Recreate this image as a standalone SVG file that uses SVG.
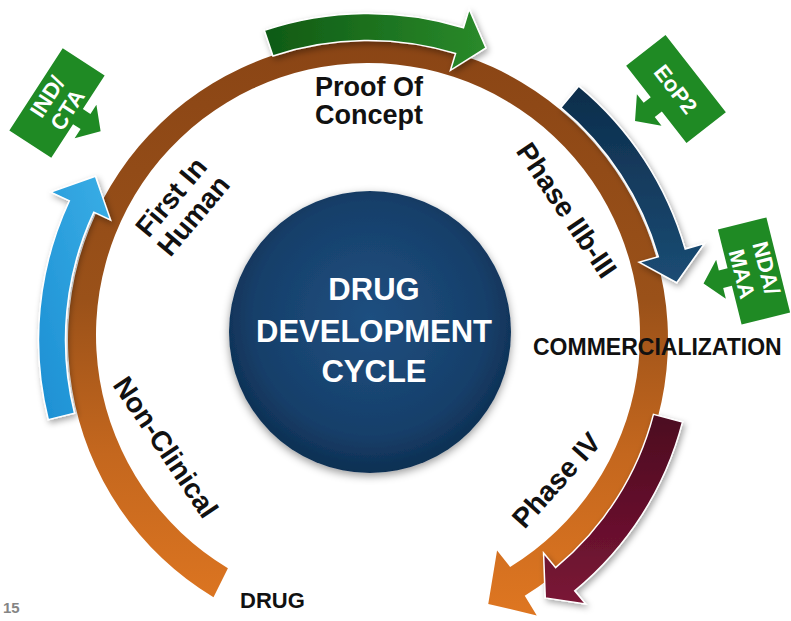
<svg xmlns="http://www.w3.org/2000/svg" width="791" height="621" viewBox="0 0 791 621">
<defs>
<style>
.lbl{font-family:"Liberation Sans",Arial,sans-serif;font-weight:bold;fill:#111;}
.tagt{font-family:"Liberation Sans",Arial,sans-serif;font-weight:bold;fill:#fff;font-size:22px;text-anchor:middle;}
.ctr{font-family:"Liberation Sans",Arial,sans-serif;font-weight:bold;fill:#fff;font-size:31px;text-anchor:middle;}
.arr{stroke:#fff;stroke-width:1.5;filter:url(#sh);}
.tag{fill:#1f8a24;}
</style>
<filter id="sh" x="-20%" y="-20%" width="140%" height="140%">
<feDropShadow dx="2" dy="3" stdDeviation="3" flood-color="#000" flood-opacity="0.35"/>
</filter>
<filter id="sh2" x="-20%" y="-20%" width="140%" height="140%">
<feDropShadow dx="0" dy="3" stdDeviation="4" flood-color="#000" flood-opacity="0.4"/>
</filter>
<linearGradient id="gRing" gradientUnits="userSpaceOnUse" x1="0" y1="40" x2="0" y2="615">
<stop offset="0" stop-color="#8a4515"/>
<stop offset="0.45" stop-color="#9a5119"/>
<stop offset="0.72" stop-color="#c4671e"/>
<stop offset="1" stop-color="#de7621"/>
</linearGradient>
<linearGradient id="gBlue" x1="0" y1="1" x2="1" y2="0">
<stop offset="0" stop-color="#1c8fd3"/>
<stop offset="1" stop-color="#3aaee6"/>
</linearGradient>
<linearGradient id="gGreen" x1="0" y1="0" x2="1" y2="0">
<stop offset="0" stop-color="#0f5a14"/>
<stop offset="1" stop-color="#2a8a2a"/>
</linearGradient>
<linearGradient id="gNavy" x1="0" y1="0" x2="0" y2="1">
<stop offset="0" stop-color="#0d2d4b"/>
<stop offset="1" stop-color="#1b4c74"/>
</linearGradient>
<linearGradient id="gMaroon" x1="0" y1="0" x2="0" y2="1">
<stop offset="0" stop-color="#4c0820"/>
<stop offset="1" stop-color="#7a1636"/>
</linearGradient>
<radialGradient id="gCircle" cx="0.5" cy="0.45" r="0.55">
<stop offset="0" stop-color="#1f4f80"/>
<stop offset="0.75" stop-color="#163f6a"/>
<stop offset="1" stop-color="#0e2f52"/>
</radialGradient>
</defs>
<rect width="791" height="621" fill="#fff"/>

<g id="connectors">
<path id="ring" fill="url(#gRing)" d="M213.49,597.15 A300,300 0 1 1 524.75,595.79 L536.77,615.40 L488.26,603.89 L497.06,550.60 L510.12,566.92 A272,272 0 1 0 227.91,568.15 Z"/>
<path id="arrow-blue" class="arr" fill="url(#gBlue)" d="M48.29,419.71 A329.5,329.5 0 0 1 69.37,200.75 L50.79,192.08 L95.42,176.22 L110.61,219.98 L93.84,212.16 A302.5,302.5 0 0 0 74.48,413.18 Z"/>
<path id="arrow-green" class="arr" fill="url(#gGreen)" d="M264.40,30.37 A326.5,326.5 0 0 1 463.46,27.77 L469.16,9.12 L486.0,47.94 L450.45,70.32 L455.57,53.59 A299.5,299.5 0 0 0 272.97,55.98 Z"/>
<path id="arrow-navy" class="arr" fill="url(#gNavy)" d="M578.79,86.10 A330,330 0 0 1 685.22,249.04 L704.44,243.53 L676.74,282.78 L639.08,262.27 L658.30,256.76 A302,302 0 0 0 560.91,107.64 Z"/>
<path id="arrow-maroon" class="arr" fill="url(#gMaroon)" d="M682.51,421.92 A325,325 0 0 1 574.73,590.78 L585.54,603.89 L545.29,597.95 L543.56,552.97 L555.64,567.63 A295,295 0 0 0 653.47,414.36 Z"/>
</g>

<g id="center-node">
<circle cx="370" cy="332" r="141" fill="url(#gCircle)" filter="url(#sh2)"/>
<text class="ctr" x="374" y="300">DRUG</text>
<text class="ctr" x="374" y="342">DEVELOPMENT</text>
<text class="ctr" x="374" y="382">CYCLE</text>
</g>

<g id="tag-ind-cta" transform="translate(57,103) rotate(-57)">
<path class="tag" d="M-49,-25 H49 V25 H9 V34 H20 L0,52 L-20,34 H-9 V25 H-49 Z"/>
<text class="tagt" x="0" y="-4">IND/</text>
<text class="tagt" x="0" y="20">CTA</text>
</g>
<g id="tag-eop2" transform="translate(676,89) rotate(52)">
<path class="tag" d="M-49,-25 H49 V25 H9 V34 H20 L0,52 L-20,34 H-9 V25 H-49 Z"/>
<text class="tagt" x="0" y="8">EoP2</text>
</g>
<g id="tag-nda-maa" transform="translate(754,271) rotate(76)">
<path class="tag" d="M-49,-25 H49 V25 H9 V34 H20 L0,52 L-20,34 H-9 V25 H-49 Z"/>
<text class="tagt" x="0" y="-5">NDA/</text>
<text class="tagt" x="0" y="20">MAA</text>
</g>

<g id="label-poc">
<text class="lbl" x="369" y="96" font-size="27" text-anchor="middle">Proof Of</text>
<text class="lbl" x="369" y="124" font-size="27" text-anchor="middle">Concept</text>
</g>
<g id="label-fih" transform="translate(182,206) rotate(-50)">
<text class="lbl" x="0" y="-4.5" font-size="28" text-anchor="middle">First In</text>
<text class="lbl" x="0" y="24.5" font-size="28" text-anchor="middle">Human</text>
</g>
<g id="label-nonclinical" transform="translate(166,447) rotate(56)">
<text class="lbl" x="0" y="10" font-size="28" text-anchor="middle">Non-Clinical</text>
</g>
<g id="label-phase3" transform="translate(567,210) rotate(56)">
<text class="lbl" x="0" y="10" font-size="28" text-anchor="middle">Phase IIb-III</text>
</g>
<g id="label-phase4" transform="translate(556,480) rotate(-48)">
<text class="lbl" x="0" y="10" font-size="28" text-anchor="middle">Phase IV</text>
</g>
<g id="label-commercialization">
<text class="lbl" x="533" y="355" font-size="23">COMMERCIALIZATION</text>
</g>
<g id="label-drug">
<text class="lbl" x="240" y="608" font-size="22">DRUG</text>
</g>
<text x="3" y="613" font-family="Liberation Sans, Arial, sans-serif" font-weight="bold" font-size="15" fill="#858585">15</text>
</svg>
